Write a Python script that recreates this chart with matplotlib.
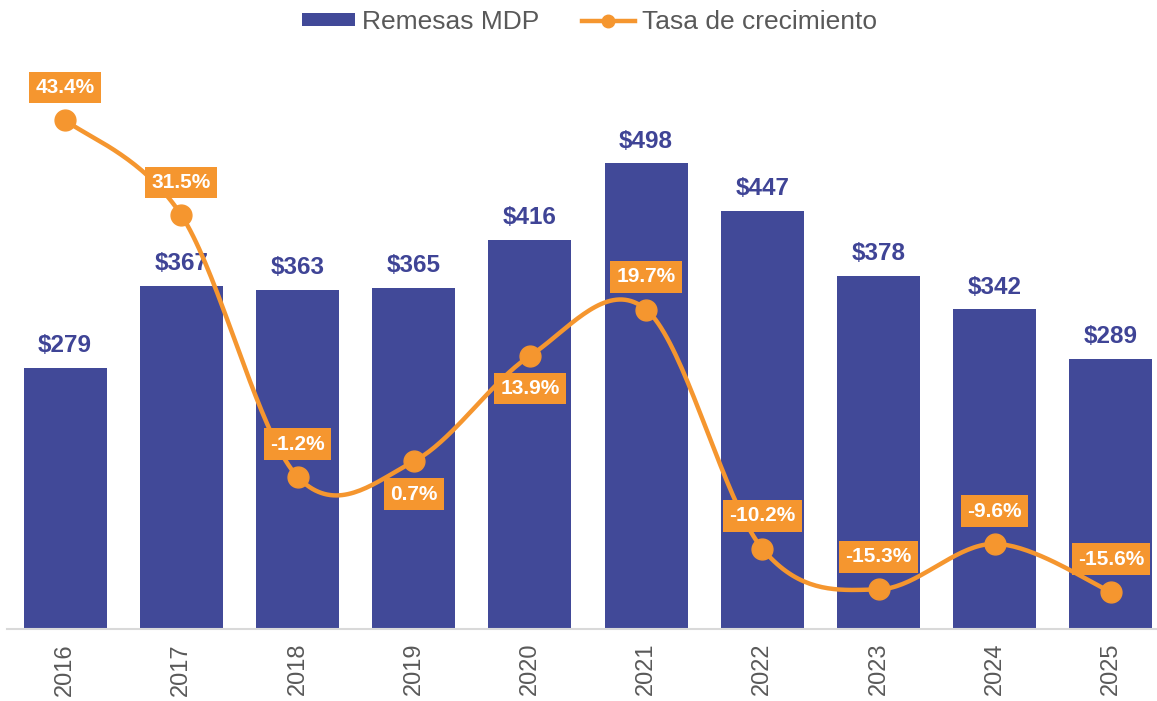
import numpy as np
import matplotlib
matplotlib.use("Agg")
import matplotlib.pyplot as plt
from matplotlib.patches import Patch
from matplotlib.lines import Line2D

plt.rcParams['font.family'] = ['Liberation Sans', 'DejaVu Sans']

years = ["2016", "2017", "2018", "2019", "2020", "2021", "2022", "2023", "2024", "2025"]
remesas = [279, 367, 363, 365, 416, 498, 447, 378, 342, 289]
crecimiento = [43.4, 31.5, -1.2, 0.7, 13.9, 19.7, -10.2, -15.3, -9.6, -15.6]
label_below = [False, False, False, True, True, False, False, False, False, False]

BAR = '#414998'
BARTXT = '#3F4496'
ORANGE = '#F5962F'
GRAY = '#595959'

fig = plt.figure(figsize=(11.57, 7.01), dpi=100)
ax = fig.add_axes([7/1157, 1-629/701, 1162/1157, 589/701])
x = np.arange(len(years))
ax.bar(x, remesas, width=0.715, color=BAR, zorder=2)
ax.set_xlim(-0.5, 9.5)
ax.set_ylim(0, 630)
for xi, v in zip(x, remesas):
    ax.annotate(f"${v}", (xi, v), xytext=(0, 16), textcoords='offset points',
                ha='center', va='center', fontsize=17.5, fontweight='bold', color=BARTXT)
ax.set_yticks([])
ax.set_xticks(x)
ax.set_xticklabels(years, rotation=90, fontsize=17, color=GRAY)
ax.tick_params(axis='x', length=0, pad=10)
for s in ['top', 'right', 'left']:
    ax.spines[s].set_visible(False)
ax.spines['bottom'].set_color('#D9D9D9')
ax.spines['bottom'].set_linewidth(1.5)

ax2 = ax.twinx()
ax2.set_ylim(-20.25, 53.4)
ax2.set_yticks([])
for s in ax2.spines.values():
    s.set_visible(False)

# smoothed line (Bezier through points, display-proportional space)
sx, sy = 116.2, 8.0
P = np.column_stack([x * sx, np.array(crecimiento) * sy])
n = len(P)
pts = []
t = np.linspace(0, 1, 40)
for i in range(n - 1):
    p0 = P[i - 1] if i > 0 else P[i]
    p1 = P[i]
    p2 = P[i + 1]
    p3 = P[i + 2] if i + 2 < n else P[i + 1]
    c1 = p1 + (p2 - p0) / 6
    c2 = p2 - (p3 - p1) / 6
    seg = ((1 - t)[:, None] ** 3) * p1 + 3 * ((1 - t) ** 2 * t)[:, None] * c1 \
        + 3 * ((1 - t) * t ** 2)[:, None] * c2 + (t ** 3)[:, None] * p2
    pts.append(seg)
curve = np.vstack(pts)
ax2.plot(curve[:, 0] / sx, curve[:, 1] / sy, color=ORANGE, lw=3.2, zorder=3,
         solid_capstyle='round')
ax2.plot(x, crecimiento, 'o', color=ORANGE, markersize=15, zorder=4)
for xi, v, below in zip(x, crecimiento, label_below):
    off = -23.5 if below else 23.5
    ax2.annotate(f"{v:.1f}%", (xi, v), xytext=(0, off), textcoords='offset points',
                 ha='center', va='center', fontsize=15, fontweight='bold', color='white',
                 bbox=dict(boxstyle='square,pad=0.3', fc=ORANGE, ec='none'), zorder=5)

handles = [Patch(facecolor=BAR, edgecolor='none'),
           Line2D([0], [0], color=ORANGE, lw=3.2, marker='o', markersize=9)]
fig.legend(handles, ["Remesas MDP", "Tasa de crecimiento"], loc='upper center',
           bbox_to_anchor=(0.5095, 1.02), ncol=2, frameon=False, fontsize=19,
           labelcolor=GRAY, handlelength=2.0, handleheight=0.4, columnspacing=1.6,
           handletextpad=0.27)

fig.savefig("out.png", dpi=100)
